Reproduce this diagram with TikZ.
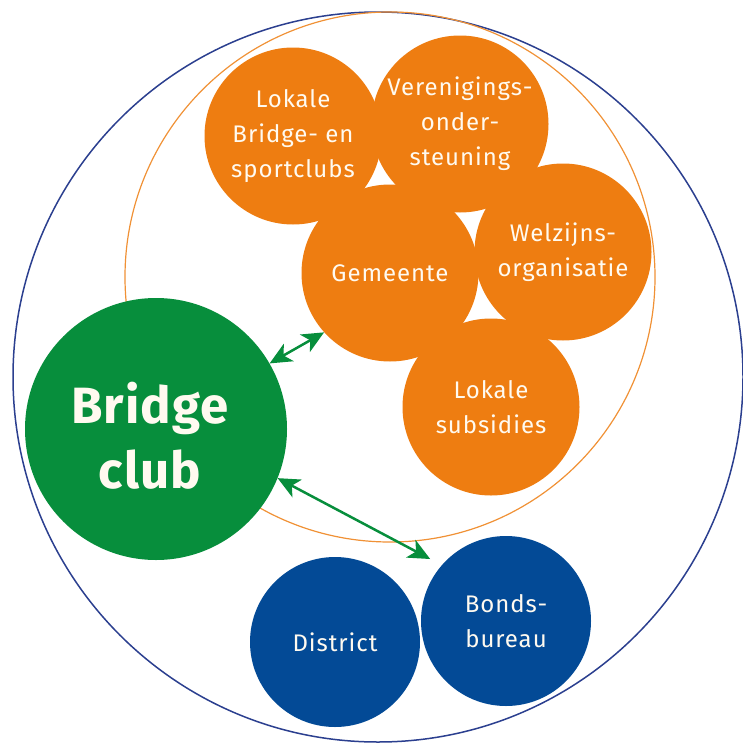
\documentclass[tikz,border=0pt]{standalone}
\usepackage{fontspec}
\setmainfont{Fira Sans}[LetterSpace=4]
\newfontfamily\clubfont{Fira Sans}[LetterSpace=2]
\usetikzlibrary{arrows.meta}
\definecolor{naranja}{HTML}{EE7D11}
\definecolor{verde}{HTML}{078E3C}
\definecolor{azul}{HTML}{034A96}
\definecolor{azullinea}{HTML}{2B3F8F}
\definecolor{crema}{HTML}{FFFAF0}
\begin{document}
\begin{tikzpicture}[x=1pt,y=-1pt]%coordenadas en pixeles de la imagen
\tikzstyle{every node}=[circle, inner sep=0pt, text=crema, align=center, font=\fontsize{24}{35}\selectfont]% cada bola con texto centrado
\tikzstyle{lokaal}=[fill=naranja, minimum size=177pt]
\tikzstyle{bond}=[fill=azul, minimum size=170pt]
\tikzstyle{clubbol}=[fill=verde, minimum size=262pt]
\tikzstyle{link}=[verde, line width=2.5pt, {Stealth[length=22pt,width=20pt,inset=6pt]}-{Stealth[length=22pt,width=20pt,inset=6pt]}] %flecha doble
\useasboundingbox (0,0) rectangle (742,744);
\draw[azullinea, line width=1.5pt] (378,377) circle (365pt);%circulo grande
\draw[naranja!85!white, line width=1.2pt] (390,277) circle (265pt);%circulo local
\node[lokaal] (sportclubs) at (293,136) {Lokale\\Bridge- en\\sportclubs};
\node[lokaal] (gemeente) at (390,273) {Gemeente};
\node[lokaal] (welzijn) at (563,252) {Welzijns-\\organisatie};
\node[lokaal] (vereniging) at (460,124) {Verenigings-\\onder-\\steuning};
\node[lokaal] (subsidies) at (491,407) {Lokale\\subsidies};
\node[clubbol] (club) at (156,429) {};
\node[font=\clubfont\bfseries\fontsize{51}{65}\selectfont] (clubtekst) at (150,436) {Bridge\\club};
\node[bond] (district) at (335,642) {District};
\node[bond] (bondsbureau) at (506,621) {Bonds-\\bureau};
\draw[link] (club.30) -- (gemeente.222);
\draw[link, shorten >=13pt] (club.-22) -- (bondsbureau.139);
\end{tikzpicture}
\end{document}
